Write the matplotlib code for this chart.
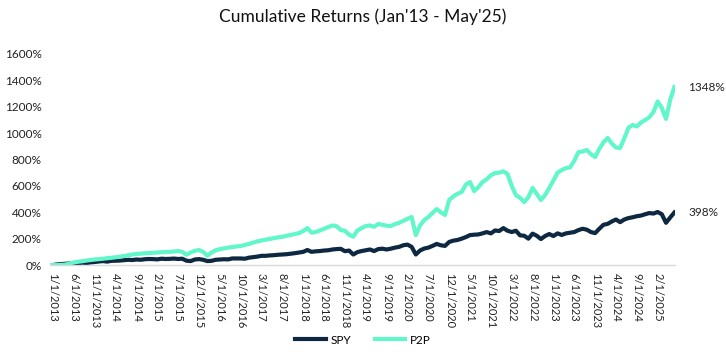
import matplotlib
matplotlib.use("Agg")
import matplotlib.pyplot as plt
import numpy as np

plt.rcParams['font.family'] = ['Lato', 'DejaVu Sans']

# cumulative return (%) at the start of each month, Jan 2013 .. May 2025, plus end of May 2025
p2p = [0, 0, 1, 4, 12, 20, 25, 29, 34, 38, 42, 45,
       48, 52, 55, 59, 63, 68, 74, 80, 84, 86, 89, 91,
       93, 95, 97, 99, 100, 103, 106, 100, 78, 95, 108, 114,
       100, 70, 95, 112, 121, 126, 132, 137, 141, 144, 152, 160,
       170, 180, 186, 192, 198, 204, 210, 214, 222, 228, 235, 242,
       258, 280, 245, 250, 262, 275, 288, 300, 295, 265, 260, 230,
       215, 262, 280, 296, 300, 290, 311, 305, 298, 296, 310, 320,
       335, 350, 364, 227, 300, 340, 364, 395, 424, 400, 379, 493,
       520, 540, 553, 610, 629, 560, 590, 629, 650, 680, 697, 700,
       710, 690, 600, 530, 510, 477, 515, 584, 540, 493, 530, 584,
       640, 700, 720, 735, 740, 790, 856, 860, 872, 840, 819, 880,
       930, 963, 920, 890, 887, 960, 1040, 1061, 1050, 1080, 1099, 1120,
       1160, 1240, 1190, 1107, 1250, 1348]

spy = [0, 5, 7, 10, 12, 14, 13, 18, 15, 20, 23, 27,
       30, 26, 32, 33, 34, 37, 40, 38, 42, 40, 44, 46,
       45, 43, 48, 46, 47, 49, 46, 48, 33, 30, 42, 45,
       40, 30, 32, 40, 42, 44, 43, 50, 50, 50, 48, 56,
       60, 64, 70, 70, 73, 75, 78, 80, 82, 86, 90, 95,
       100, 114, 100, 104, 106, 110, 112, 118, 121, 123, 105, 110,
       80, 98, 106, 112, 118, 106, 121, 124, 118, 124, 132, 138,
       150, 155, 138, 80, 110, 125, 132, 145, 160, 150, 145, 175,
       185, 190, 200, 212, 227, 230, 232, 240, 250, 240, 262, 258,
       280, 260, 250, 260, 225, 222, 200, 238, 222, 197, 220, 235,
       220, 240, 228, 240, 245, 250, 265, 275, 268, 250, 242, 275,
       305, 312, 330, 345, 325, 345, 356, 362, 370, 375, 385, 394,
       390, 402, 385, 320, 360, 398]

yticks = [0, 200, 400, 600, 800, 1000, 1200, 1400, 1600]

x = np.arange(len(p2p))
tick_pos = np.arange(0, 146, 5)
tick_lab = [f"{m % 12 + 1}/1/{2013 + m // 12}" for m in tick_pos]

fig = plt.figure(figsize=(7.26, 3.52), dpi=100)
ax = fig.add_axes([0.069, 0.247, 0.861, 0.6])

ax.plot(x, spy, color='#0E2841', lw=3, label='SPY', solid_joinstyle='round')
ax.plot(x, p2p, color='#62F7CB', lw=3, label='P2P', solid_joinstyle='round')

ax.set_ylim(0, 1600)
ax.set_xlim(-0.7, 149.2)
ax.set_yticks(yticks)
ax.set_yticklabels([f"{v}%" for v in yticks], fontsize=8.5, color='#222222')
ax.set_xticks(tick_pos)
ax.set_xticklabels(tick_lab, rotation=270, fontsize=8, color='#222222')
ax.tick_params(length=0, pad=6)

for s in ['top', 'right', 'left']:
    ax.spines[s].set_visible(False)
ax.spines['bottom'].set_color('#D9D9D9')
ax.spines['bottom'].set_linewidth(1)

ax.annotate(f"{p2p[-1]}%", xy=(x[-1], p2p[-1]), xytext=(10, 0), textcoords='offset points',
            va='center', ha='left', fontsize=8.5, color='#222222', annotation_clip=False)
ax.annotate(f"{spy[-1]}%", xy=(x[-1], spy[-1]), xytext=(10, 0), textcoords='offset points',
            va='center', ha='left', fontsize=8.5, color='#222222', annotation_clip=False)

fig.suptitle("Cumulative Returns (Jan'13 - May'25)", y=0.975, fontsize=12.5, color='#111111')
fig.legend(loc='center', bbox_to_anchor=(0.5, 0.034), ncol=2, frameon=False,
           fontsize=8.5, handlelength=2.6, columnspacing=2.0, handletextpad=0.4)

fig.savefig('out.png', dpi=100)
